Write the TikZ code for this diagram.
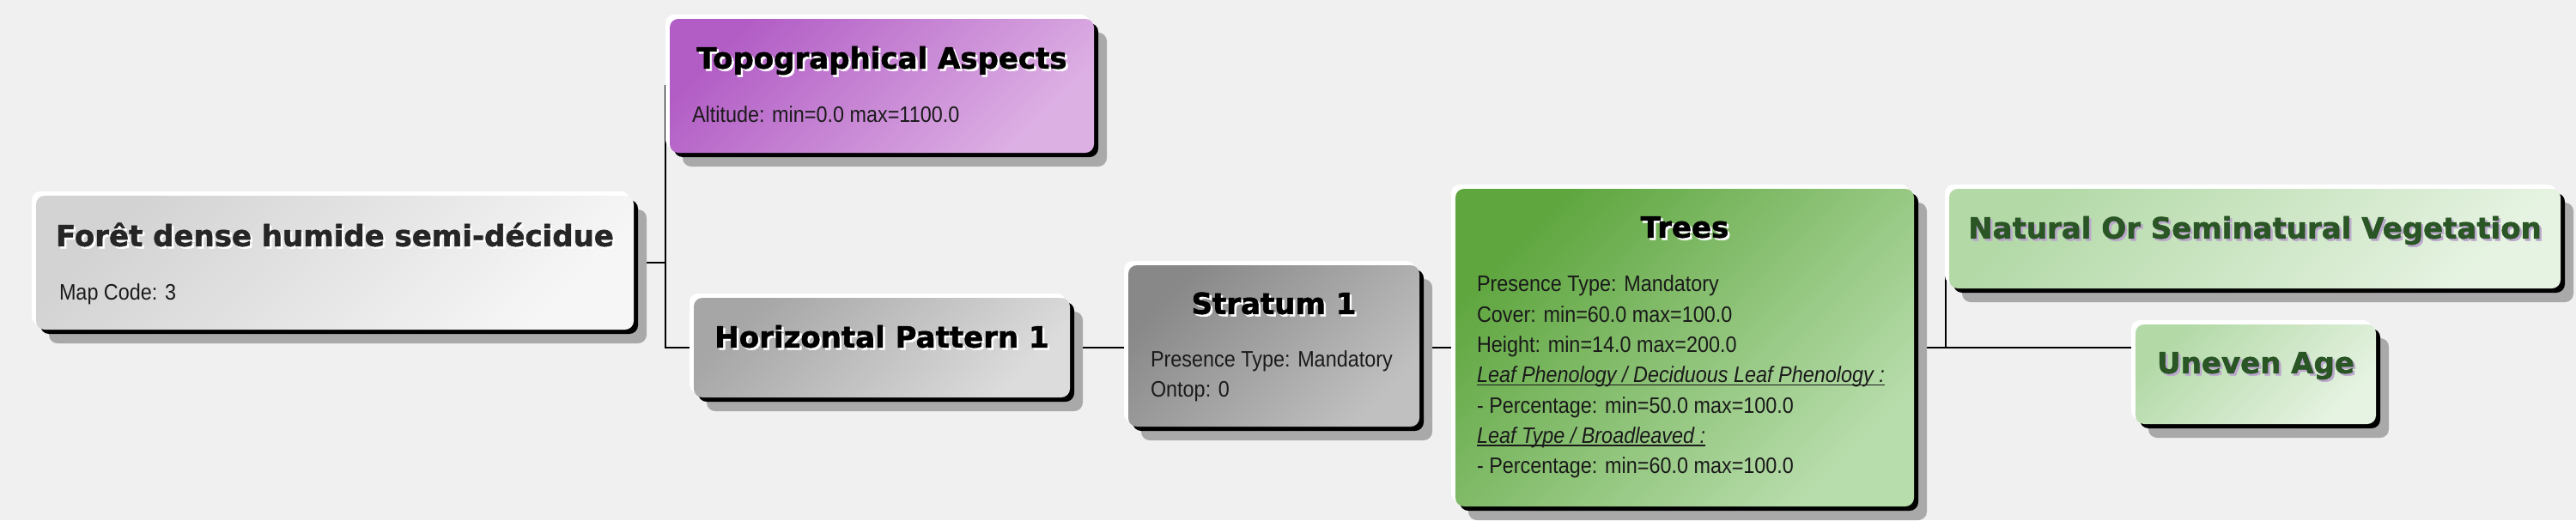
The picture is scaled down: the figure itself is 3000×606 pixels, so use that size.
\documentclass[tikz,border=0pt]{standalone}
\usepackage{fontspec}
\setmainfont{Liberation Sans}
\newfontfamily\tfont{DejaVu Sans}[BoldFeatures={FakeBold=1.6}]
\newfontfamily\bfontfam{Liberation Sans}[FakeStretch=0.9]
\usetikzlibrary{calc}
\pgfdeclarelayer{bottom}
\pgfdeclarelayer{conn}
\pgfsetlayers{bottom,conn,main}
\definecolor{bg}{HTML}{F0F0F0}
\definecolor{shadowgray}{HTML}{A9A9A9}
\definecolor{cForetA}{HTML}{D3D3D3}
\definecolor{cForetB}{HTML}{F6F6F6}
\definecolor{cTopoA}{HTML}{B25DC5}
\definecolor{cTopoB}{HTML}{DDB0E4}
\definecolor{cHpA}{HTML}{A6A6A6}
\definecolor{cHpB}{HTML}{DCDCDC}
\definecolor{cStA}{HTML}{888888}
\definecolor{cStB}{HTML}{C0C0C0}
\definecolor{cTrA}{HTML}{5FA63F}
\definecolor{cTrB}{HTML}{B8DDAC}
\definecolor{cLgA}{HTML}{B3D9A7}
\definecolor{cLgB}{HTML}{E6F3E2}
\definecolor{titledark}{HTML}{262626}
\definecolor{titlegreen}{HTML}{2A5524}
\definecolor{greenshadow}{HTML}{BBA8CC}
\definecolor{bodytext}{HTML}{1A1A1A}
\newcommand\shd[3]{\rlap{\hspace{2.5pt}\raisebox{-2.5pt}{\color{#2}#1}}{\color{#3}#1}}
\newcommand\myul[1]{\setbox0\hbox{#1}\rlap{\rule[-3.5pt]{\wd0}{1.5pt}}\box0}
\newcommand\panel[7]{%
  \fill[shadowgray, rounded corners=10pt] (#2+15,#3+16) rectangle (#4+15,#5+16);
  \fill[black, rounded corners=10pt] (#2+5,#3+5) rectangle (#4+5,#5+5);
  \fill[white, rounded corners=10pt] (#2-5,#3-5) rectangle (#4-5,#5-5);
  \node[panelbox, left color=#6, right color=#7, shading angle=45,
        minimum width={(#4-#2)*1pt}, minimum height={(#5-#3)*1pt}]
        (#1) at ({(#2+#4)/2},{(#3+#5)/2}) {};
}
\tikzset{
  panelbox/.style={rectangle, rounded corners=10pt, inner sep=0pt, draw=none},
  ttl/.style={font=\tfont\bfseries\fontsize{34}{40}\selectfont, inner sep=0pt, anchor=base},
  bdy/.style={font=\bfontfam\fontsize{26}{30}\selectfont, inner sep=0pt, anchor=base west, text=bodytext},
  link/.style={draw=black, line width=2.2pt},
}
\begin{document}
\begin{tikzpicture}[x=1pt, y=-1pt]
\useasboundingbox (0,0) rectangle (3000,606);
\begin{pgfonlayer}{bottom}
  \fill[bg] (0,0) rectangle (3000,606);
\end{pgfonlayer}

\panel{foret}{42}{228}{738}{384}{cForetA}{cForetB}
\node[ttl] (foretT) at ($(foret.north)+(0,59)$) {\shd{Forêt dense humide semi-décidue}{white}{titledark}};
\node[bdy] (foretL1) at ($(foret.north west)+(27,122)$) {Map Code: 3};

\panel{topo}{780}{22}{1274}{178}{cTopoA}{cTopoB}
\node[ttl] (topoT) at ($(topo.north)+(0,58)$) {\shd{Topographical Aspects}{white}{black}};
\node[bdy] (topoL1) at ($(topo.north west)+(26,121)$) {Altitude: min=0.0 max=1100.0};

\panel{hp}{808}{347}{1246}{463}{cHpA}{cHpB}
\node[ttl] (hpT) at ($(hp.north)+(0,58)$) {\shd{Horizontal Pattern 1}{white}{black}};

\panel{stratum}{1314}{309}{1653}{497}{cStA}{cStB}
\node[ttl] (stratumT) at ($(stratum.north)+(0,57)$) {\shd{Stratum 1}{white}{black}};
\node[bdy] (stratumL1) at ($(stratum.north west)+(26,119)$) {Presence Type: Mandatory};
\node[bdy] (stratumL2) at ($(stratum.north west)+(26,154)$) {Ontop: 0};

\panel{trees}{1695}{220}{2229}{590}{cTrA}{cTrB}
\node[ttl] (treesT) at ($(trees.north)+(0,57)$) {\shd{Trees}{white}{black}};
\node[bdy] (treesL1) at ($(trees.north west)+(25,120)$) {Presence Type: Mandatory};
\node[bdy] (treesL2) at ($(trees.north west)+(25,155.3)$) {Cover: min=60.0 max=100.0};
\node[bdy] (treesL3) at ($(trees.north west)+(25,190.6)$) {Height: min=14.0 max=200.0};
\node[bdy] (treesL4) at ($(trees.north west)+(25,225.9)$) {\myul{\itshape Leaf Phenology / Deciduous Leaf Phenology :}};
\node[bdy] (treesL5) at ($(trees.north west)+(25,261.2)$) {- Percentage: min=50.0 max=100.0};
\node[bdy] (treesL6) at ($(trees.north west)+(25,296.5)$) {\myul{\itshape Leaf Type / Broadleaved :}};
\node[bdy] (treesL7) at ($(trees.north west)+(25,331.8)$) {- Percentage: min=60.0 max=100.0};

\panel{nosv}{2270}{220}{2982}{336}{cLgA}{cLgB}
\node[ttl] (nosvT) at ($(nosv.north)+(0,58)$) {\shd{Natural Or Seminatural Vegetation}{greenshadow}{titlegreen}};

\panel{uneven}{2487}{378}{2767}{494}{cLgA}{cLgB}
\node[ttl] (unevenT) at ($(uneven.north)+(0,57)$) {\shd{Uneven Age}{greenshadow}{titlegreen}};

\coordinate (busL) at (775,0);
\coordinate (busR) at (2266,0);
\begin{pgfonlayer}{conn}
  \draw[link] (foret.east) -- (foret.east -| busL);
  \draw[link] (topo.west) -- (topo.west -| busL) |- (hp.west);
  \draw[link] (hp.east) -- (hp.east -| stratum.west);
  \draw[link] (trees.west) -- (trees.west -| stratum.east);
  \draw[link] (trees.east) -- (trees.east -| uneven.west);
  \draw[link] (nosv.west) -- (nosv.west -| busR) |- (trees.east);
\end{pgfonlayer}
\end{tikzpicture}
\end{document}
